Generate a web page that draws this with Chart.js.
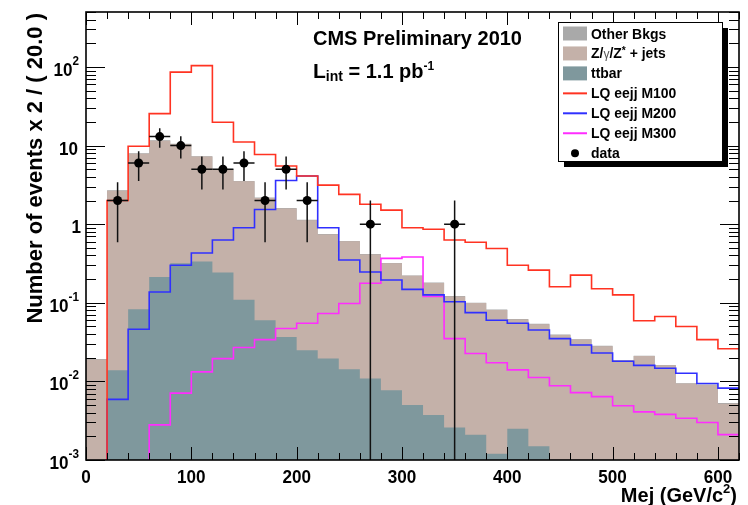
<!DOCTYPE html>
<html>
<head>
<meta charset="utf-8">
<script src="https://cdn.jsdelivr.net/npm/chart.js@4.4.0/dist/chart.umd.min.js"></script>
<style>
  html, body { margin: 0; padding: 0; background: #fff; }
  canvas { display: block; }
</style>
</head>
<body>
<canvas id="c" width="748" height="505"></canvas>
<script>
// Mej histograms, 20 GeV bins (left edges)
const binLo = [0,20,40,60,80,100,120,140,160,180,200,220,240,260,280,300,320,340,360,380,400,420,440,460,480,500,520,540,560,580,600];
const BIN_W = 20;

// backgrounds (stacked: ttbar, Z+jets, other)
const ttbar    = [0,0.0139,0.083,0.213,0.318,0.336,0.242,0.109,0.060,0.0367,0.0249,0.0195,0.0143,0.0109,0.0077,0.0050,0.00375,0.0026,0.0021,0.0012,0.0025,0.0015,0,0,0,0,0,0,0,0,0];
const zjets    = [0.019,2.65,7.8,11.3,10.1,6.9,4.7,3.4,2.1,1.55,1.1,0.72,0.59,0.40,0.31,0.215,0.175,0.118,0.097,0.080,0.059,0.052,0.039,0.034,0.028,0.0185,0.021,0.016,0.0094,0.0090,0.0052];
const otherBkg = [0.0003,0.03,0.1,0.15,0.12,0.08,0.05,0.04,0.03,0.02,0.015,0.01,0.008,0.006,0.004,0.003,0.002,0.0015,0.0012,0.001,0.0008,0.0006,0.0005,0.0004,0.0003,0.0002,0.0002,0.0002,0.0001,0.0001,0.0001];

// LQ signals
const lqM100 = [0,2.0,9.8,25.5,86,104,19.8,11.1,7.7,5.5,4.1,3.14,2.39,1.79,1.51,0.90,0.86,0.63,0.59,0.49,0.30,0.26,0.16,0.225,0.151,0.126,0.059,0.067,0.050,0.034,0.026];
const lqM200 = [0,0.0059,0.046,0.137,0.30,0.43,0.63,0.90,1.54,3.6,4.1,0.90,0.35,0.246,0.195,0.148,0.126,0.103,0.075,0.060,0.055,0.045,0.035,0.029,0.023,0.018,0.016,0.0147,0.0127,0.0094,0.0082];
const lqM300 = [0,0,0,0.0028,0.0071,0.0132,0.0195,0.027,0.034,0.047,0.055,0.073,0.098,0.177,0.367,0.382,0.12,0.035,0.0226,0.0173,0.014,0.0112,0.0088,0.0072,0.0064,0.0049,0.0041,0.0038,0.0034,0.0030,0.0021];

// data
const dataX   = [30,50,70,90,110,130,150,170,190,210,270,350];
const dataN   = [2,6,13,10,5,5,6,2,5,2,1,1];
const dataErr = [1.41,2.45,3.61,3.16,2.24,2.24,2.45,1.41,2.24,1.41,1,1];

// axis ticks
const xMajor = [0,100,200,300,400,500,600];
const xLabels = ['0','100','200','300','400','500','600'];
const yDecades = [0.001,0.01,0.1,1,10,100];
const yLabels = [['10','-3'],['10','-2'],['10','-1'],['1',''],['10',''],['10','2']];

const COL = { tt:'#7f989d', z:'#c4b1a9', other:'#a9a9a9', m100:'#ff3322', m200:'#3030ff', m300:'#ff2cff' };
const FONT = '"Liberation Sans", Arial, Helvetica, sans-serif';
const FLOOR = 1e-5; // below axis min, for empty bins

// histogram -> step points
const steps = vals => {
  const pts = vals.map((v,i) => ({x: binLo[i], y: v > 0 ? v : FLOOR}));
  pts.push({x: binLo[binLo.length-1] + BIN_W, y: pts[pts.length-1].y});
  return pts;
};
const sumArr = (a,b) => a.map((v,i) => v + b[i]);
const stTT = ttbar;
const stZ = sumArr(ttbar, zjets);
const stAll = sumArr(stZ, otherBkg);

const fillDs = (vals, color, order) => ({
  data: steps(vals), backgroundColor: color, borderWidth: 0, borderColor: color,
  fill: 'start', stepped: true, pointRadius: 0, order, clip: 0
});
const lineDs = (vals, color, order) => ({
  data: steps(vals), borderColor: color, borderWidth: 1.6, fill: false,
  stepped: true, pointRadius: 0, order, clip: 0
});

// helper: text with horizontal squeeze
function txt(ctx, s, x, y, size, align, sx, weight) {
  ctx.save();
  ctx.font = (weight || 'bold') + ' ' + size + 'px ' + FONT;
  const w = ctx.measureText(s).width * sx;
  const x0 = align === 'right' ? x - w : align === 'center' ? x - w/2 : x;
  ctx.translate(x0, y);
  ctx.scale(sx, 1);
  ctx.textAlign = 'left';
  ctx.textBaseline = 'alphabetic';
  ctx.fillText(s, 0, 0);
  ctx.restore();
  return w;
}

const decor = {
  id: 'decor',
  beforeDatasetDraw(chart, args) {
    if (args.index !== 0) return;
    const ctx = chart.ctx, xs = chart.scales.x, ys = chart.scales.y, a = chart.chartArea;
    ctx.save();
    ctx.strokeStyle = '#111';
    ctx.lineWidth = 1.5;
    dataX.forEach((xv, i) => {
      const px = xs.getPixelForValue(xv), py = ys.getPixelForValue(dataN[i]);
      const lo = dataN[i] - dataErr[i];
      const pLo = lo > 0.001 ? ys.getPixelForValue(lo) : a.bottom;
      const pHi = ys.getPixelForValue(dataN[i] + dataErr[i]);
      ctx.beginPath();
      ctx.moveTo(px, pLo); ctx.lineTo(px, pHi);
      ctx.moveTo(xs.getPixelForValue(xv - BIN_W/2), py);
      ctx.lineTo(xs.getPixelForValue(xv + BIN_W/2), py);
      ctx.stroke();
    });
    ctx.restore();
  },
  afterDatasetsDraw(chart) {
    const ctx = chart.ctx, xs = chart.scales.x, ys = chart.scales.y, a = chart.chartArea;
    ctx.save();
    ctx.strokeStyle = '#000';
    ctx.lineWidth = 1;
    ctx.beginPath();
    // x ticks every 20, major every 100
    for (let v = 0; v <= 620; v += 20) {
      const px = Math.round(xs.getPixelForValue(v)) + 0.5;
      const len = v % 100 === 0 ? 13 : 7;
      ctx.moveTo(px, a.bottom); ctx.lineTo(px, a.bottom - len);
      ctx.moveTo(px, a.top); ctx.lineTo(px, a.top + len);
    }
    // y log ticks
    yDecades.forEach(d => {
      for (let m = 1; m <= 9; m++) {
        const v = d * m;
        if (v > 500) break;
        const py = Math.round(ys.getPixelForValue(v)) + 0.5;
        const len = m === 1 ? 19 : 10;
        ctx.moveTo(a.left, py); ctx.lineTo(a.left + len, py);
        ctx.moveTo(a.right, py); ctx.lineTo(a.right - len, py);
      }
    });
    ctx.stroke();
    ctx.lineWidth = 1.6;
    ctx.strokeRect(a.left, a.top, a.right - a.left, a.bottom - a.top);
    ctx.restore();
  },
  afterDraw(chart) {
    const ctx = chart.ctx, xs = chart.scales.x, ys = chart.scales.y;
    ctx.save();
    ctx.fillStyle = '#000';
    // x labels
    xMajor.forEach((v, i) => txt(ctx, xLabels[i], xs.getPixelForValue(v), 483, 19, 'center', 0.9));
    // y labels
    yDecades.forEach((d, i) => {
      const py = ys.getPixelForValue(d);
      const [b, e] = yLabels[i];
      if (e) {
        const we = txt(ctx, e, 79, py - 2, 13, 'right', 0.9);
        txt(ctx, b, 79 - we, py + 9, 19, 'right', 0.9);
      } else {
        txt(ctx, b, b === '1' ? 81 : 78, py + 9, 19, 'right', 0.9);
      }
    });
    // axis titles
    const wS = txt(ctx, ')', 737, 502, 20, 'right', 1);
    const w2 = txt(ctx, '2', 737 - wS, 493, 13, 'right', 1);
    txt(ctx, 'Mej (GeV/c', 737 - wS - w2, 502, 20, 'right', 1);
    ctx.save();
    ctx.translate(41.5, 13);
    ctx.rotate(-Math.PI / 2);
    ctx.font = 'bold 22px ' + FONT;
    ctx.textAlign = 'right';
    ctx.fillText('Number of events x 2 / ( 20.0 )', 0, 0);
    ctx.restore();
    // CMS labels
    txt(ctx, 'CMS Preliminary 2010', 313, 45, 20, 'left', 1);
    let x = 313;
    x += txt(ctx, 'L', x, 78, 21, 'left', 1);
    x += txt(ctx, 'int', x, 81, 14, 'left', 1);
    x += txt(ctx, ' = 1.1 pb', x, 78, 20, 'left', 1);
    txt(ctx, '-1', x, 70, 12, 'left', 1);

    // legend
    ctx.fillStyle = '#000';
    ctx.fillRect(564, 28, 164, 139);
    ctx.fillStyle = '#fff';
    ctx.fillRect(558, 22, 164, 139);
    ctx.strokeStyle = '#000';
    ctx.lineWidth = 1;
    ctx.strokeRect(558.5, 22.5, 164, 139);
    const rows = [
      {t:'fill', c:COL.other, s:'Other Bkgs'},
      {t:'fill', c:COL.z, s:'Z/γ/Z* + jets'},
      {t:'fill', c:COL.tt, s:'ttbar'},
      {t:'line', c:COL.m100, s:'LQ eejj M100'},
      {t:'line', c:COL.m200, s:'LQ eejj M200'},
      {t:'line', c:COL.m300, s:'LQ eejj M300'},
      {t:'dot', c:'#000', s:'data'}
    ];
    rows.forEach((r, i) => {
      const ry = 33.5 + 19.95 * i;
      if (r.t === 'fill') { ctx.fillStyle = r.c; ctx.fillRect(563, ry - 7, 24, 14); }
      else if (r.t === 'line') {
        ctx.strokeStyle = r.c; ctx.lineWidth = 2;
        ctx.beginPath(); ctx.moveTo(563, ry); ctx.lineTo(587, ry); ctx.stroke();
      } else {
        ctx.fillStyle = '#000'; ctx.beginPath(); ctx.arc(575, ry, 4, 0, Math.PI * 2); ctx.fill();
      }
      ctx.fillStyle = '#000';
      if (i === 1) {
        let lx = 591;
        lx += txt(ctx, 'Z/', lx, ry + 5, 15, 'left', 0.93);
        ctx.fillStyle = '#555';
        lx += txt(ctx, 'γ', lx, ry + 5, 13, 'left', 0.93, 'normal');
        ctx.fillStyle = '#000';
        lx += txt(ctx, '/Z', lx, ry + 5, 15, 'left', 0.93);
        lx += txt(ctx, '*', lx, ry + 1, 11, 'left', 0.93);
        txt(ctx, ' + jets', lx, ry + 5, 15, 'left', 0.93);
      } else {
        txt(ctx, r.s, 591, ry + 5, 15, 'left', 0.93);
      }
    });
    ctx.restore();
  }
};

new Chart(document.getElementById('c').getContext('2d'), {
  type: 'line',
  data: {
    datasets: [
      { data: dataX.map((x, i) => ({x, y: dataN[i]})), showLine: false, pointRadius: 4.5,
        pointBackgroundColor: '#000', pointBorderWidth: 0, order: 0, clip: false },
      lineDs(lqM100, COL.m100, 1),
      lineDs(lqM200, COL.m200, 2),
      lineDs(lqM300, COL.m300, 3),
      fillDs(stTT, COL.tt, 4),
      fillDs(stZ, COL.z, 5),
      fillDs(stAll, COL.other, 6)
    ]
  },
  options: {
    responsive: false,
    animation: false,
    devicePixelRatio: 1,
    layout: { padding: { left: 86, right: 9, top: 12, bottom: 45 } },
    plugins: { legend: { display: false }, tooltip: { enabled: false } },
    scales: {
      x: { type: 'linear', min: 0, max: 620, display: false },
      y: { type: 'logarithmic', min: 0.001, max: 500, display: false }
    }
  },
  plugins: [decor]
});
</script>
</body>
</html>
